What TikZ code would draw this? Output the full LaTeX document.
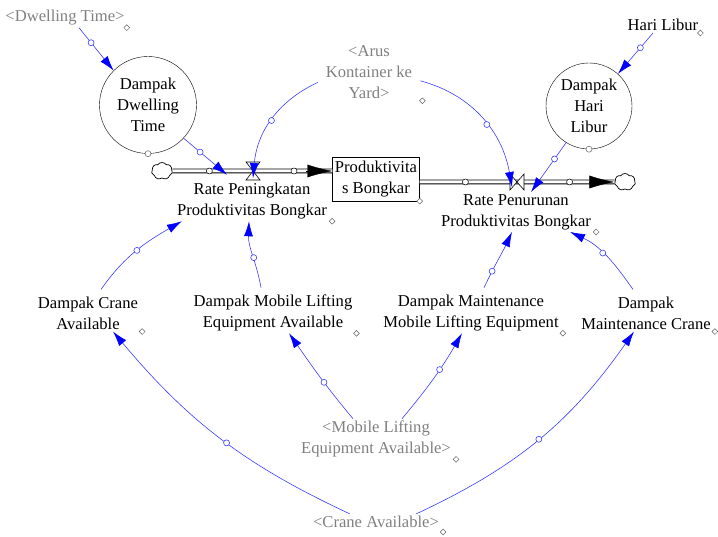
\documentclass[tikz,border=0pt]{standalone}
\usepackage{fontspec}
\setmainfont{Liberation Serif}
\usepackage{tikz}
\usetikzlibrary{arrows.meta, positioning, shapes.geometric, shapes.symbols}
\definecolor{linkblue}{RGB}{60,60,255}
\definecolor{ghostgray}{RGB}{128,128,128}
\tikzset{
    font = \fontsize{16.6}{21}\selectfont,                              % Vensim-like text size
    var/.style = {align=center, inner sep=2pt},                         % Plain variable names
    ghost/.style = {var, text=ghostgray},                               % Shadow variables <...>
    auxc/.style = {circle, draw, align=center, inner sep=0pt},          % Circled variables
    stockbox/.style = {draw, align=center, minimum width=87pt,
                       minimum height=44pt, inner sep=1pt},             % The level
    link/.style = {-{Latex[length=15pt,width=9pt,color=blue]},
                   draw=linkblue, line width=0.6pt},                    % Blue causal links
    handle/.style = {circle, draw=linkblue, fill=white, line width=0.6pt,
                     minimum size=6pt, inner sep=0pt},                  % Small circle on a link
    knob/.style = {diamond, draw=gray!80!black, fill=white, line width=0.5pt,
                   minimum size=6pt, inner sep=0pt},                    % Small marker next to a name
    pipeknob/.style = {circle, draw, fill=white, line width=0.5pt,
                       minimum size=6pt, inner sep=0pt},                % Small circle on a pipe
    pipe/.style = {draw=black, double=white, double distance=3pt,
                   line width=0.8pt},                                   % Flow pipe
    flowhead/.style = {-{Latex[length=25pt,width=13pt]}, line width=0.4pt},
    valve/.style = {draw, fill=white, line width=0.6pt},
    cloudy/.style = {cloud, cloud puffs=7, cloud puff arc=110, aspect=1.3, draw,
                     fill=white, line width=0.7pt, minimum width=21pt,
                     minimum height=17pt, inner sep=0pt}
}

\begin{document}
\begin{tikzpicture}[x=1pt, y=1pt]
    \useasboundingbox (0,0) rectangle (718,537);

    % upper row
    \node [ghost] (dwellG) at (65,519) {<Dwelling Time>};
    \node [auxc, minimum size=97pt] (dDwell) at (148,432) {Dampak\\Dwelling\\Time};
    \node [ghost] (arus) at (369,465) {<Arus\\Kontainer ke\\Yard>};
    \node [var] (hari) at (663,512) {Hari Libur};
    \node [auxc, minimum size=86pt] (dHari) at (589,431) {Dampak\\Hari\\Libur};

    % level and flows
    \node [stockbox] (stock) at (376,358) {Produktivita\\s Bongkar};
    \node [cloudy] (cloudL) at (162,366) {};
    \node [cloudy] (cloudR) at (625,355) {};
    \coordinate (vUp) at (253,366);
    \coordinate (vDown) at (517,355);
    \node [var] (rateUp) at (252,336) {Rate Peningkatan\\Produktivitas Bongkar};
    \node [var] (rateDown) at (516,325) {Rate Penurunan\\Produktivitas Bongkar};

    % lower rows
    \node [var] (dCrane) at (88,224) {Dampak Crane\\Available};
    \node [var] (dMobile) at (273,224) {Dampak Mobile Lifting\\Equipment Available};
    \node [var] (dMaintMobile) at (471,224) {Dampak Maintenance\\Mobile Lifting Equipment};
    \node [var] (dMaintCrane) at (646,224) {Dampak\\Maintenance Crane};
    \node [ghost] (gMobile) at (376,98) {<Mobile Lifting\\Equipment Available>};
    \node [ghost] (gCrane) at (376,15) {<Crane Available>};

    % pipes
    \draw [pipe] (cloudL.east) -- ([yshift=8pt]stock.west);
    \draw [pipe] ([yshift=-3pt]stock.east) -- (cloudR.west);
    \path (cloudL.east) -- node [pipeknob, pos=.23] {} node [pipeknob, pos=.76] {} ([yshift=8pt]stock.west);
    \path ([yshift=-3pt]stock.east) -- node [pipeknob, pos=.235] {} node [pipeknob, pos=.77] {} (cloudR.west);
    \draw [flowhead] ([xshift=-26pt,yshift=8pt]stock.west) -- ([yshift=8pt]stock.west);
    \draw [flowhead] ([xshift=-24pt]cloudR.west) -- (cloudR.west);
    \draw [valve] ([shift={(-7pt,9pt)}]vUp) -- ([shift={(7pt,9pt)}]vUp)
        -- ([shift={(-7pt,-9pt)}]vUp) -- ([shift={(7pt,-9pt)}]vUp) -- cycle;
    \draw [valve] ([shift={(-7pt,8pt)}]vDown) -- ([shift={(-7pt,-8pt)}]vDown)
        -- ([shift={(7pt,8pt)}]vDown) -- ([shift={(7pt,-8pt)}]vDown) -- cycle;

    % links
    \draw   ([xshift=14pt]dwellG.south) edge [link] node [handle, pos=.35] {} (dDwell.135)
            (dDwell.-43) edge [link] node [handle, pos=.38] {} ([xshift=-25pt,yshift=6pt]rateUp.north)
            ([xshift=-6pt]arus.193) edge [link, out=205, in=85] node [handle, pos=.5] {} ([yshift=-7pt]vUp)
            ([xshift=6pt]arus.-11) edge [link, out=-15, in=100] node [handle, pos=.55] {} ([shift={(-5pt,-5pt)}]vDown)
            ([xshift=-10pt]hari.south) edge [link] node [handle, pos=.36] {} (dHari.48)
            (dHari.238) edge [link] node [handle, pos=.33] {} ([xshift=15pt]rateDown.north)
            ([shift={(13pt,5pt)}]dCrane.north) edge [link, out=55, in=210] node [handle, pos=.5] {} ([xshift=7pt]rateUp.south west)
            ([shift={(-12pt,5pt)}]dMobile.north) edge [link, out=100, in=268] node [handle, pos=.45] {} ([xshift=-3pt]rateUp.south)
            ([shift={(13pt,5pt)}]dMaintMobile.north) edge [link, out=65, in=245] node [handle, pos=.28] {} ([xshift=-4pt]rateDown.south)
            ([shift={(-13pt,5pt)}]dMaintCrane.north) edge [link, out=125, in=-25] node [handle, pos=.55] {} ([xshift=54pt]rateDown.south)
            ([xshift=-23pt]gMobile.north) edge [link, out=130, in=-55] node [handle, pos=.43] {} ([xshift=16pt]dMobile.south)
            ([xshift=26pt]gMobile.north) edge [link, out=50, in=240] node [handle, pos=.6] {} ([xshift=-9pt]dMaintMobile.south)
            ([xshift=-26pt]gCrane.north) edge [link, out=155, in=-50] node [handle, pos=.47] {} ([xshift=25pt]dCrane.south)
            ([xshift=40pt]gCrane.north) edge [link, out=25, in=235] node [handle, pos=.5] {} ([xshift=-12pt]dMaintCrane.south);

    % small markers next to the names
    \node [knob] at (dwellG.south east) {};
    \node [knob, circle] at (dDwell.south) {};
    \node [knob] at ([xshift=8pt]arus.south east) {};
    \node [knob] at ([xshift=3pt]rateUp.south east) {};
    \node [knob] at (stock.south east) {};
    \node [knob] at ([xshift=3pt]rateDown.south east) {};
    \node [knob] at (hari.south east) {};
    \node [knob, circle] at (dHari.south) {};
    \node [knob] at ([xshift=2pt]dCrane.south east) {};
    \node [knob] at ([xshift=2pt]dMobile.south east) {};
    \node [knob] at ([xshift=2pt]dMaintMobile.south east) {};
    \node [knob] at ([xshift=2pt]dMaintCrane.south east) {};
    \node [knob] at ([xshift=3pt]gMobile.south east) {};
    \node [knob] at ([shift={(2pt,-2pt)}]gCrane.south east) {};
\end{tikzpicture}
\end{document}
